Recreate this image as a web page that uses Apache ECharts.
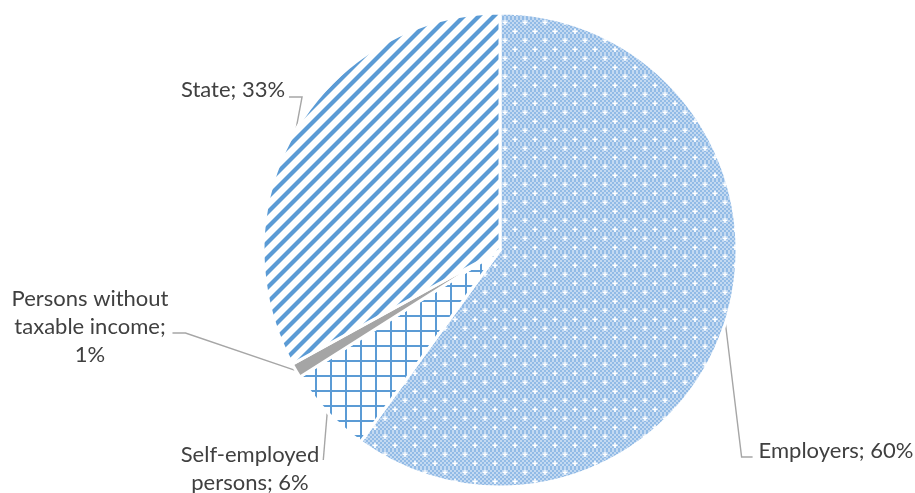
<!DOCTYPE html>
<html>
<head>
<meta charset="utf-8">
<script src="https://cdn.jsdelivr.net/npm/echarts@6/dist/echarts.min.js"></script>
<style>
  html, body { margin: 0; padding: 0; background: #fff; }
  #chart { width: 915px; height: 493px; }
</style>
</head>
<body>
<div id="chart"></div>
<script>
// Contributors to the fund, shares in percent
const categories = ['Employers', 'Self-employed\npersons', 'Persons without\ntaxable income', 'State'];
const shares = [60, 6, 1, 33];
// value goes on its own line for these slices
const valueOnNewLine = [false, false, true, false];

const BLUE = '#5B9BD5';

function makeTile(w, h, draw) {
  const c = document.createElement('canvas');
  c.width = w; c.height = h;
  draw(c.getContext('2d'), w, h);
  return c;
}

// small dotted grid: light blue checker with white crosses
const dottedTile = makeTile(20, 18, (ctx, w, h) => {
  ctx.fillStyle = '#92BBE6';
  ctx.fillRect(0, 0, w, h);
  ctx.fillStyle = 'rgba(255,255,255,0.45)';
  for (let y = 0; y < h; y += 2) {
    for (let x = (y / 2) % 2 === 0 ? 0 : 2; x < w; x += 4) {
      ctx.fillRect(x, y, 2, 2);
    }
  }
  ctx.fillStyle = '#ffffff';
  const plus = (x, y) => {
    ctx.fillRect(x - 2.5, y - 0.75, 5, 1.5);
    ctx.fillRect(x - 0.75, y - 2.5, 1.5, 5);
  };
  plus(5, 4.5);
  plus(15, 13.5);
});

// large grid: blue lines on white
const gridTile = makeTile(15, 15, (ctx, w, h) => {
  ctx.fillStyle = '#ffffff';
  ctx.fillRect(0, 0, w, h);
  ctx.fillStyle = BLUE;
  ctx.fillRect(0, 0, 2, h);
  ctx.fillRect(0, 0, w, 2);
});

// wide upward diagonal stripes
const stripeTile = makeTile(15, 15, (ctx, w, h) => {
  ctx.fillStyle = '#ffffff';
  ctx.fillRect(0, 0, w, h);
  ctx.strokeStyle = BLUE;
  ctx.lineWidth = 4.2;
  ctx.lineCap = 'square';
  const seg = (c) => {
    ctx.beginPath();
    ctx.moveTo(c - w - 2, h + 2);
    ctx.lineTo(c + 2, -2);
    ctx.stroke();
  };
  seg(0); seg(w); seg(2 * w);
});

const fills = [
  { image: dottedTile, repeat: 'repeat' },
  { image: gridTile, repeat: 'repeat' },
  '#A5A5A5',
  { image: stripeTile, repeat: 'repeat' }
];

// where each label sits and how its leader line meets it
const labelPlacement = [
  { cx: 836, cy: 451, side: 'left',  dy: 6 },
  { cx: 250, cy: 469, side: 'top',   dy: -9 },
  { cx: 90,  cy: 327, side: 'right', dy: 6 },
  { cx: 233, cy: 90,  side: 'right', dy: 7 }
];

const chart = echarts.init(document.getElementById('chart'), null, { renderer: 'canvas' });

chart.setOption({
  animation: false,
  backgroundColor: '#ffffff',
  series: [{
    type: 'pie',
    center: [500, 250],
    radius: 237,
    startAngle: 90,
    clockwise: true,
    avoidLabelOverlap: false,
    itemStyle: { borderColor: '#ffffff', borderWidth: 3 },
    emphasis: { disabled: true },
    label: {
      show: true,
      position: 'outside',
      fontFamily: 'Lato',
      fontSize: 22,
      lineHeight: 28,
      color: '#404040',
      formatter: p => p.name + ';' + (valueOnNewLine[p.dataIndex] ? '\n' : ' ') + p.value + '%'
    },
    labelLine: {
      show: true,
      smooth: false,
      lineStyle: { color: '#A6A6A6', width: 1.4 }
    },
    labelLayout: function (params) {
      const pl = labelPlacement[params.dataIndex];
      const w = params.labelRect.width;
      const anchor = params.labelLinePoints ? params.labelLinePoints[0] : [pl.cx, pl.cy];
      let pts;
      if (pl.side === 'left') {
        const ex = pl.cx - w / 2 - 6, ey = pl.cy + pl.dy;
        pts = [anchor, [ex - 11, ey], [ex, ey]];
      } else if (pl.side === 'right') {
        const ex = pl.cx + w / 2 + 4, ey = pl.cy + pl.dy;
        if (pl.dataIndex === 3) {
          pts = [anchor, [ex, ey], [ex, ey]];
        } else {
          pts = [anchor, [ex + 13, ey], [ex, ey]];
        }
      } else {
        const ex = pl.cx + w / 2 + 4, ey = pl.cy + pl.dy;
        pts = [anchor, [ex, ey], [ex, ey]];
      }
      return {
        x: pl.cx,
        y: pl.cy,
        align: 'center',
        verticalAlign: 'middle',
        labelLinePoints: pts
      };
    },
    data: categories.map((name, i) => ({
      name: name,
      value: shares[i],
      itemStyle: { color: fills[i] }
    }))
  }]
});
</script>
</body>
</html>
